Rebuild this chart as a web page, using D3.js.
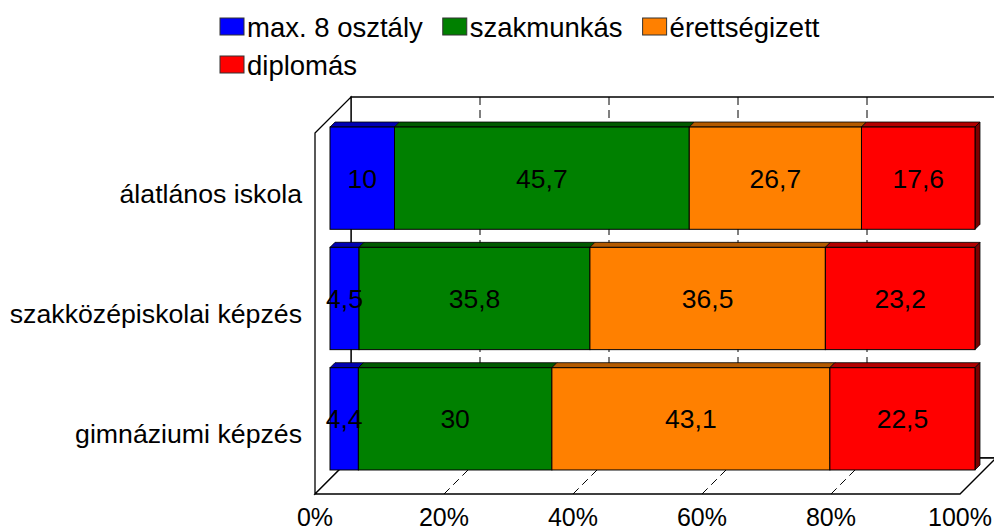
<!DOCTYPE html>
<html>
<head>
<meta charset="utf-8">
<script src="https://cdn.jsdelivr.net/npm/d3@7"></script>
<style>
  body { margin: 0; background: #fff; }
  text { font-family: "Liberation Sans", Arial, sans-serif; fill: #000; }
</style>
</head>
<body>
<svg id="chart"></svg>
<script>
// Data
const categories = ["álatlános iskola", "szakközépiskolai képzés", "gimnáziumi képzés"];
const seriesNames = ["max. 8 osztály", "szakmunkás", "érettségizett", "diplomás"];
const max8Osztaly = [10, 4.5, 4.4];
const szakmunkas = [45.7, 35.8, 30];
const erettsegizett = [26.7, 36.5, 43.1];
const diplomas = [17.6, 23.2, 22.5];
const tickValues = [0, 20, 40, 60, 80, 100];

const colors = ["#0000FF", "#008000", "#FF8000", "#FF0000"];

const width = 994;
const height = 531;

const svg = d3.select("#chart")
    .attr("width", width)
    .attr("height", height);

// table for the stack
const rows = categories.map((c, i) => ({
    cat: c,
    [seriesNames[0]]: max8Osztaly[i],
    [seriesNames[1]]: szakmunkas[i],
    [seriesNames[2]]: erettsegizett[i],
    [seriesNames[3]]: diplomas[i]
}));
const stacked = d3.stack().keys(seriesNames)(rows);

// front plane scales
const x = d3.scaleLinear().domain([0, 100]).range([315, 960]);
const y = d3.scaleBand()
    .domain(categories)
    .range([133, 494])
    .paddingInner(0.15)
    .paddingOuter(0.075);

// 3d depth
const wallDepth = 36;
const barZ = 15;     // front face of bars
const barDepth = 5;

function pt(px, py, z) { return [px + z, py - z]; }
function poly(points) { return "M" + points.map(p => p.join(",")).join("L") + "Z"; }

const yTop = y.range()[0];
const yBot = y.range()[1];

// walls
const walls = svg.append("g").attr("fill", "none").attr("stroke", "#000").attr("stroke-width", 1.3);

// back wall
walls.append("path").attr("d", poly([
    pt(x(0), yTop, wallDepth), pt(x(100), yTop, wallDepth),
    pt(x(100), yBot, wallDepth), pt(x(0), yBot, wallDepth)
])).attr("fill", "#fff");
// left wall
walls.append("path").attr("d", poly([
    pt(x(0), yTop, 0), pt(x(0), yTop, wallDepth),
    pt(x(0), yBot, wallDepth), pt(x(0), yBot, 0)
])).attr("fill", "#fff");
// floor
walls.append("path").attr("d", poly([
    pt(x(0), yBot, 0), pt(x(100), yBot, 0),
    pt(x(100), yBot, wallDepth), pt(x(0), yBot, wallDepth)
])).attr("fill", "#fff");

// gridlines
const grid = svg.append("g")
    .attr("stroke", "#000")
    .attr("stroke-width", 1)
    .attr("stroke-dasharray", "8,5");

grid.selectAll(".gwall")
    .data(tickValues.slice(1, -1))
    .enter()
    .append("line")
    .attr("x1", d => pt(x(d), yTop, wallDepth)[0])
    .attr("y1", d => pt(x(d), yTop, wallDepth)[1])
    .attr("x2", d => pt(x(d), yBot, wallDepth)[0])
    .attr("y2", d => pt(x(d), yBot, wallDepth)[1]);

grid.selectAll(".gfloor")
    .data(tickValues.slice(1, -1))
    .enter()
    .append("line")
    .attr("x1", d => pt(x(d), yBot, 0)[0])
    .attr("y1", d => pt(x(d), yBot, 0)[1])
    .attr("x2", d => pt(x(d), yBot, wallDepth)[0])
    .attr("y2", d => pt(x(d), yBot, wallDepth)[1]);

// bars
const bars = svg.append("g");

stacked.forEach((layer, si) => {
    const base = d3.color(colors[si]);
    const g = bars.append("g");

    layer.forEach((d, ci) => {
        const cat = categories[ci];
        const x0 = x(d[0]), x1 = x(d[1]);
        const y0 = y(cat), y1 = y(cat) + y.bandwidth();

        // top face
        g.append("path")
            .attr("d", poly([
                pt(x0, y0, barZ), pt(x1, y0, barZ),
                pt(x1, y0, barZ + barDepth), pt(x0, y0, barZ + barDepth)
            ]))
            .attr("fill", base.darker(1))
            .attr("stroke", "#000")
            .attr("stroke-width", 0.8);

        // side face on the last segment
        if (si === seriesNames.length - 1) {
            g.append("path")
                .attr("d", poly([
                    pt(x1, y0, barZ), pt(x1, y0, barZ + barDepth),
                    pt(x1, y1, barZ + barDepth), pt(x1, y1, barZ)
                ]))
                .attr("fill", base.darker(2))
                .attr("stroke", "#000")
                .attr("stroke-width", 0.8);
        }

        // front face
        const f0 = pt(x0, y0, barZ);
        g.append("rect")
            .attr("x", f0[0])
            .attr("y", f0[1])
            .attr("width", x1 - x0)
            .attr("height", y1 - y0)
            .attr("fill", base)
            .attr("stroke", "#000")
            .attr("stroke-width", 1);
    });
});

// data labels
stacked.forEach((layer, si) => {
    svg.selectAll(".lbl" + si)
        .data(layer)
        .enter()
        .append("text")
        .attr("x", d => pt((x(d[0]) + x(d[1])) / 2, 0, barZ)[0])
        .attr("y", (d, ci) => pt(0, y(categories[ci]) + y.bandwidth() / 2, barZ)[1])
        .attr("dy", "0.36em")
        .style("text-anchor", "middle")
        .style("font-size", "26.5px")
        .text(d => String(+(d[1] - d[0]).toFixed(1)).replace(".", ","));
});

// category labels
svg.selectAll(".cat")
    .data(categories)
    .enter()
    .append("text")
    .attr("x", 302)
    .attr("y", d => y(d) + y.bandwidth() / 2)
    .attr("dy", "0.36em")
    .style("text-anchor", "end")
    .style("font-size", "26.7px")
    .text(d => d);

// x tick labels
svg.selectAll(".tick-label")
    .data(tickValues)
    .enter()
    .append("text")
    .attr("x", d => x(d))
    .attr("y", 526)
    .style("text-anchor", "middle")
    .style("font-size", "25px")
    .text(d => d + "%");

// legend
const legend = svg.append("g");
let lx = 220, ly = 0;
const legendRight = 830;
seriesNames.forEach((name, i) => {
    const item = legend.append("g");
    const t = item.append("text")
        .attr("x", 27)
        .attr("y", 19)
        .style("font-size", "27.5px")
        .text(name);
    const w = 27 + t.node().getComputedTextLength();
    if (lx + w > legendRight) { lx = 220; ly += 38; }
    item.append("rect")
        .attr("x", 0)
        .attr("y", 0)
        .attr("width", 24)
        .attr("height", 17)
        .attr("fill", colors[i])
        .attr("stroke", "#333")
        .attr("stroke-width", 1);
    item.attr("transform", "translate(" + lx + "," + (18 + ly) + ")");
    lx += w + 20;
});
</script>
</body>
</html>
